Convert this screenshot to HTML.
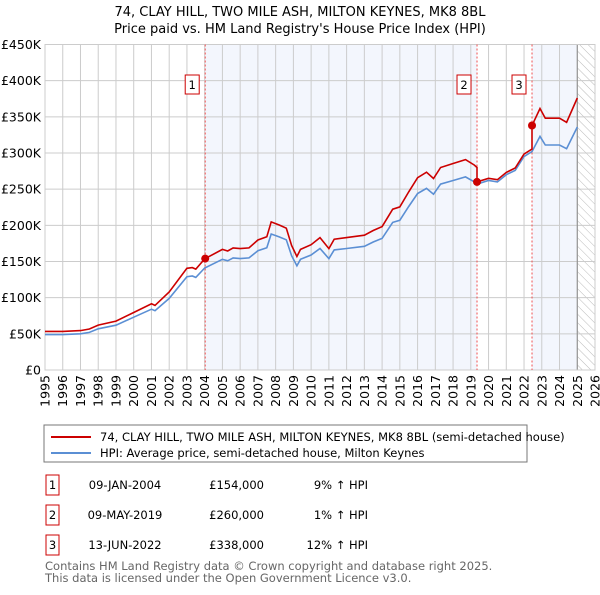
<!DOCTYPE html>
<html><head><meta charset="utf-8"><style>
body{margin:0;background:#fff;font-family:"Liberation Sans","DejaVu Sans",sans-serif;}
svg text{font-family:"DejaVu Sans","Liberation Sans",sans-serif;}
</style></head><body>
<svg id="chart" width="600" height="590" xmlns="http://www.w3.org/2000/svg">
<defs><pattern id="hatch" width="6" height="6" patternUnits="userSpaceOnUse" patternTransform="rotate(-45)"><line x1="0" y1="0" x2="0" y2="6" stroke="#bbb" stroke-width="1"/></pattern></defs>
<text x="300" y="16" text-anchor="middle" font-size="13" fill="#000">74, CLAY HILL, TWO MILE ASH, MILTON KEYNES, MK8 8BL</text>
<text x="300" y="33" text-anchor="middle" font-size="13" fill="#000">Price paid vs. HM Land Registry's House Price Index (HPI)</text>
<g id="plot"></g>
<rect x="44" y="425" width="483" height="37" fill="#fff" stroke="#777"/>
<line x1="51" y1="437" x2="91" y2="437" stroke="#cc0000" stroke-width="2"/>
<text x="100" y="441" font-size="11.5">74, CLAY HILL, TWO MILE ASH, MILTON KEYNES, MK8 8BL (semi-detached house)</text>
<line x1="51" y1="453" x2="91" y2="453" stroke="#5b8fd4" stroke-width="2"/>
<text x="100" y="457" font-size="11.5">HPI: Average price, semi-detached house, Milton Keynes</text>
<g id="table" font-size="11.5"></g>
<text x="45" y="570" font-size="11.5" fill="#666">Contains HM Land Registry data © Crown copyright and database right 2025.</text>
<text x="45" y="582" font-size="11.5" fill="#666">This data is licensed under the Open Government Licence v3.0.</text>
</svg>
<script>
const hpiYears=[1995,1996,1997,1997.5,1998,1999,2000,2001,2001.2,2002,2003,2003.3,2003.5,2004,2005,2005.3,2005.6,2006,2006.5,2007,2007.5,2007.75,2008.2,2008.6,2008.9,2009.2,2009.4,2010,2010.5,2011,2011.3,2012,2013,2013.5,2014,2014.6,2015,2015.5,2016,2016.5,2016.9,2017.3,2018,2018.7,2019.2,2019.35,2020,2020.5,2021,2021.5,2022,2022.45,2022.9,2023.2,2024,2024.4,2025];
const hpiValues=[49,49,50,52,57,62,73,84,82,99,129,130,128,141,153,151,155,154,155,165,169,188,184,180,158,144,153,159,168,154,166,168,171,177,182,204,207,226,244,251,243,257,262,267,260,257,262,260,270,276,295,302,323,311,311,306,336];
const saleYears=[2004.03,2019.35,2022.45];
const salePrices=[154,260,338];
const saleLabels=["1","2","3"];
const saleDates=["09-JAN-2004","09-MAY-2019","13-JUN-2022"];
const salePriceText=["£154,000","£260,000","£338,000"];
const salePctText=["9% ↑ HPI","1% ↑ HPI","12% ↑ HPI"];
const yTicks=[0,50,100,150,200,250,300,350,400,450];
const yTickLabels=["£0","£50K","£100K","£150K","£200K","£250K","£300K","£350K","£400K","£450K"];
const xTicks=[1995,1996,1997,1998,1999,2000,2001,2002,2003,2004,2005,2006,2007,2008,2009,2010,2011,2012,2013,2014,2015,2016,2017,2018,2019,2020,2021,2022,2023,2024,2025,2026];

const X0=45,X1=595,Y0=370,Y1=44.5;
const xs=y=>X0+(y-1995)/(2026-1995)*(X1-X0);
const ys=v=>Y0-v/450*(Y0-Y1);
const NS="http://www.w3.org/2000/svg";
const g=document.getElementById('plot');
function mk(tag,attrs,parent){const e=document.createElementNS(NS,tag);for(const k in attrs)e.setAttribute(k,attrs[k]);(parent||g).appendChild(e);return e;}
function hpiAt(t){for(let i=1;i<hpiYears.length;i++){if(t<=hpiYears[i]){const a=hpiYears[i-1],b=hpiYears[i];return hpiValues[i-1]+(hpiValues[i]-hpiValues[i-1])*(t-a)/(b-a);}}return hpiValues[hpiValues.length-1];}
// shaded ownership bands
let r=mk('rect',{x:xs(saleYears[0]),y:Y1,width:xs(saleYears[1])-xs(saleYears[0]),height:Y0-Y1,fill:'#f3f6fd'});


r=mk('rect',{x:xs(saleYears[2]),y:Y1,width:xs(2025)-xs(saleYears[2]),height:Y0-Y1,fill:'#f3f6fd'});


r=mk('rect',{x:xs(2025),y:Y1,width:X1-xs(2025),height:Y0-Y1,fill:'url(#hatch)'});


// grid
yTicks.forEach((v,i)=>{
 const l=mk('line',{x1:X0,x2:X1,y1:ys(v),y2:ys(v),stroke:'#ccc'});
 
 
 const t=mk('text',{x:X0-4,y:ys(v)+4.5,'text-anchor':'end','font-size':'12.5'});
 t.textContent=yTickLabels[i];
 
 
});
xTicks.forEach(y=>{
 const l=mk('line',{x1:xs(y),x2:xs(y),y1:Y1,y2:Y0,stroke:'#ccc'});
 
 
 const t=mk('text',{x:0,y:0,'text-anchor':'end','font-size':'12.5',transform:`translate(${xs(y)+4.5},${Y0+5}) rotate(-90)`});
 t.textContent=y;
 
 
});
let fl=mk('line',{x1:xs(2025),x2:xs(2025),y1:Y1,y2:Y0,stroke:'#888'});


let br=mk('rect',{x:X0,y:Y1,width:X1-X0,height:Y0-Y1,fill:'none',stroke:'#ccc'});


// sale vlines
saleYears.forEach((s,i)=>{
 const l=mk('line',{x1:xs(s),x2:xs(s),y1:Y1,y2:Y0,stroke:'#f05050','stroke-dasharray':'2,2'});
 
 
 const b=mk('rect',{x:xs(s)-20,y:75,width:14,height:19,fill:'#fff',stroke:'#cc0000'});
 
 
 const t=mk('text',{x:xs(s)-13,y:89,'text-anchor':'middle','font-size':'11.5'});
 t.textContent=saleLabels[i];
 
 
});
// HPI line
const hp=mk('path',{d:hpiYears.map((y,i)=>(i?'L':'M')+xs(y).toFixed(1)+','+ys(hpiValues[i]).toFixed(1)).join(''),fill:'none',stroke:'#5b8fd4','stroke-width':1.6});


// property line: HPI scaled by ratio of the latest sale
const ratios=saleYears.map((s,i)=>salePrices[i]/hpiAt(s));
let d='';
hpiYears.forEach((y,i)=>{
 let k=0;for(let j=0;j<saleYears.length;j++)if(y>=saleYears[j])k=j;
 d+=(i?'L':'M')+xs(y).toFixed(1)+','+ys(hpiValues[i]*ratios[k]).toFixed(1);
 if(i+1<hpiYears.length){saleYears.forEach((s,j)=>{if(s>y&&s<=hpiYears[i+1]){const h=hpiAt(s);d+='L'+xs(s).toFixed(1)+','+ys(h*ratios[j>0?j-1:0]).toFixed(1)+'L'+xs(s).toFixed(1)+','+ys(salePrices[j]).toFixed(1);}});}
});
const pl=mk('path',{d:d,fill:'none',stroke:'#cc0000','stroke-width':1.6});


saleYears.forEach((s,i)=>{
 const c=mk('circle',{cx:xs(s),cy:ys(salePrices[i]),r:4,fill:'#cc0000'});
 
 
});
// table
const tb=document.getElementById('table');
[484,514,544].forEach((ry,i)=>{
 const b=mk('rect',{x:46,y:ry-9,width:13,height:20,fill:'none',stroke:'#cc0000'},tb);
 
 
 const cells=[[52.5,'middle',saleLabels[i],'table-row-number'],[125,'middle',saleDates[i],'table-date'],[264,'end',salePriceText[i],'table-price'],[368,'end',salePctText[i],'table-hpi-change']];
 cells.forEach(c=>{
  const t=mk('text',{x:c[0],y:ry+5,'text-anchor':c[1]},tb);
  t.textContent=c[2];
  
  
 });
});
</script>
</body></html>
